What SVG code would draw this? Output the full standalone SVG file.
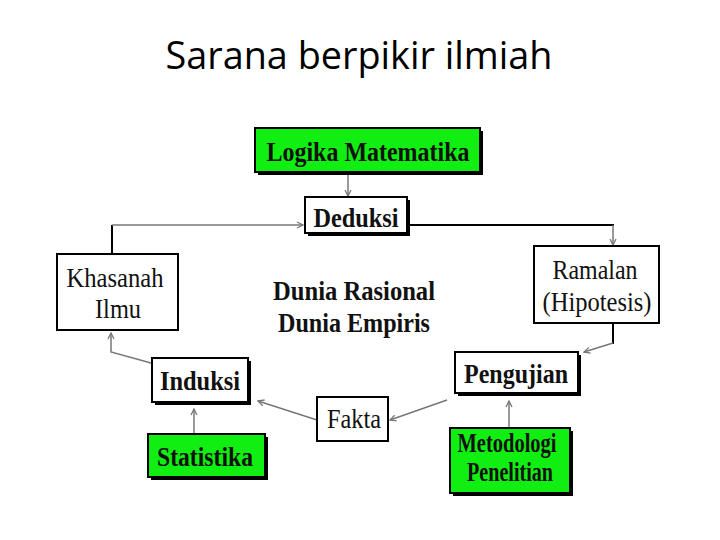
<svg xmlns="http://www.w3.org/2000/svg" width="720" height="540" viewBox="0 0 720 540">
<defs>
<style>
.box{fill:#fff;stroke:#000;stroke-width:2}
.green{fill:#11ee11;stroke:#000;stroke-width:2}
.shadow{fill:#000}
.t{font-family:"Liberation Serif","Times New Roman",serif;font-size:27px;fill:#111;text-anchor:middle}
.b{font-weight:bold}
.g{fill:none;stroke:#777;stroke-width:1.5}
.k{fill:none;stroke:#000;stroke-width:2}
</style>
<marker id="ah" markerWidth="8" markerHeight="8" refX="7" refY="4" orient="auto" markerUnits="userSpaceOnUse">
<path d="M1,1 L7,4 L1,7" fill="none" stroke="#777" stroke-width="1.3"/>
</marker>
</defs>
<rect width="720" height="540" fill="#fff"/>
<text x="359" y="69" font-family="'Open Sans','Noto Sans',sans-serif" font-size="39" text-anchor="middle" fill="#000" textLength="387" lengthAdjust="spacingAndGlyphs">Sarana berpikir ilmiah</text>

<g id="connectors">
<line class="g" x1="348" y1="173" x2="348" y2="196" marker-end="url(#ah)"/>
<line class="k" x1="112" y1="254" x2="112" y2="225"/>
<line class="g" x1="112" y1="225" x2="303" y2="225" marker-end="url(#ah)"/>
<line class="k" x1="410" y1="225" x2="614" y2="225"/>
<line class="g" x1="613" y1="225" x2="613" y2="245" marker-end="url(#ah)"/>
<line class="k" x1="613" y1="324" x2="613" y2="344"/>
<line class="g" x1="613" y1="343" x2="584" y2="352" marker-end="url(#ah)"/>
<line class="g" x1="447" y1="400" x2="390" y2="420" marker-end="url(#ah)"/>
<line class="g" x1="509" y1="428" x2="509" y2="401" marker-end="url(#ah)"/>
<line class="g" x1="317" y1="420" x2="258" y2="401" marker-end="url(#ah)"/>
<line class="g" x1="194" y1="434" x2="194" y2="409" marker-end="url(#ah)"/>
<polyline class="g" points="151,363 111,352 111,333" marker-end="url(#ah)"/>
</g>

<g id="logika">
<rect class="shadow" x="258" y="131" width="225" height="44"/>
<rect class="green" x="255" y="128" width="225" height="44"/>
<text class="t b" x="368" y="161" font-size="24" textLength="203" lengthAdjust="spacingAndGlyphs">Logika Matematika</text>
</g>
<g id="deduksi">
<rect class="shadow" x="308" y="200" width="102" height="36"/>
<rect class="box" x="305" y="197" width="102" height="36"/>
<text class="t b" x="356" y="227" font-size="28" textLength="85" lengthAdjust="spacingAndGlyphs">Deduksi</text>
</g>
<g id="khasanah">
<rect class="box" x="57" y="254" width="121" height="76"/>
<text class="t" x="115" y="287" font-size="28" textLength="97" lengthAdjust="spacingAndGlyphs">Khasanah</text>
<text class="t" x="118" y="318" font-size="28" textLength="46" lengthAdjust="spacingAndGlyphs">Ilmu</text>
</g>
<g id="dunia">
<text class="t b" x="354" y="300" textLength="162" lengthAdjust="spacingAndGlyphs">Dunia Rasional</text>
<text class="t b" x="354" y="332" textLength="152" lengthAdjust="spacingAndGlyphs">Dunia Empiris</text>
</g>
<g id="ramalan">
<rect class="box" x="534" y="246" width="125" height="77"/>
<text class="t" x="595" y="279" font-size="26" textLength="85" lengthAdjust="spacingAndGlyphs">Ramalan</text>
<text class="t" x="597" y="311" font-size="26" textLength="109" lengthAdjust="spacingAndGlyphs">(Hipotesis)</text>
</g>
<g id="pengujian">
<rect class="shadow" x="458" y="355" width="123" height="41"/>
<rect class="box" x="455" y="352" width="123" height="41"/>
<text class="t b" x="516" y="383" textLength="104" lengthAdjust="spacingAndGlyphs">Pengujian</text>
</g>
<g id="fakta">
<rect class="box" x="317" y="397" width="71" height="44"/>
<text class="t" x="354" y="428" font-size="26" textLength="54" lengthAdjust="spacingAndGlyphs">Fakta</text>
</g>
<g id="metodologi">
<rect class="shadow" x="453" y="431" width="120" height="65"/>
<rect class="green" x="450" y="428" width="120" height="65"/>
<text class="t b" x="507" y="452" font-size="19" textLength="99" lengthAdjust="spacingAndGlyphs">Metodologi</text>
<text class="t b" x="510" y="481" font-size="19" textLength="86" lengthAdjust="spacingAndGlyphs">Penelitian</text>
</g>
<g id="induksi">
<rect class="shadow" x="155" y="361" width="96" height="44"/>
<rect class="box" x="152" y="358" width="96" height="44"/>
<text class="t b" x="200" y="390" font-size="28" textLength="80" lengthAdjust="spacingAndGlyphs">Induksi</text>
</g>
<g id="statistika">
<rect class="shadow" x="151" y="437" width="117" height="43"/>
<rect class="green" x="148" y="434" width="117" height="43"/>
<text class="t b" x="205" y="466" textLength="96" lengthAdjust="spacingAndGlyphs">Statistika</text>
</g>
</svg>
